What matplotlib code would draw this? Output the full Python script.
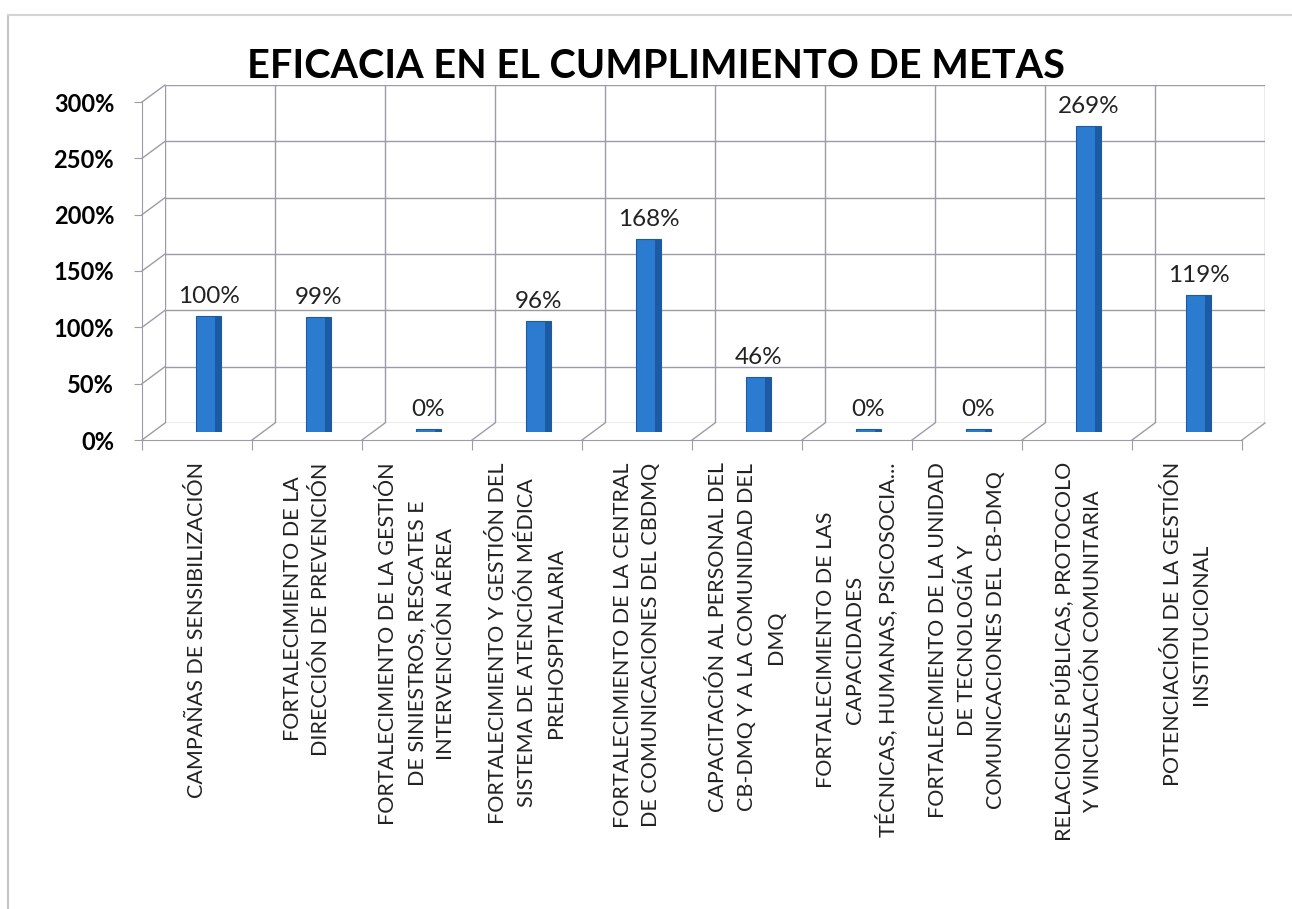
import matplotlib.pyplot as plt
from matplotlib.lines import Line2D

# datos del grafico
categorias = [
    "CAMPAÑAS DE SENSIBILIZACIÓN",
    "FORTALECIMIENTO DE LA\nDIRECCIÓN DE PREVENCIÓN",
    "FORTALECIMIENTO DE LA GESTIÓN\nDE SINIESTROS, RESCATES E\nINTERVENCIÓN AÉREA",
    "FORTALECIMIENTO Y GESTIÓN DEL\nSISTEMA DE ATENCIÓN MÉDICA\nPREHOSPITALARIA",
    "FORTALECIMIENTO DE LA CENTRAL\nDE COMUNICACIONES DEL CBDMQ",
    "CAPACITACIÓN AL PERSONAL DEL\nCB-DMQ Y A LA COMUNIDAD DEL\nDMQ",
    "FORTALECIMIENTO DE LAS\nCAPACIDADES\nTÉCNICAS, HUMANAS, PSICOSOCIA...",
    "FORTALECIMIENTO DE LA UNIDAD\nDE TECNOLOGÍA Y\nCOMUNICACIONES DEL CB-DMQ",
    "RELACIONES PÚBLICAS, PROTOCOLO\nY VINCULACIÓN COMUNITARIA",
    "POTENCIACIÓN DE LA GESTIÓN\nINSTITUCIONAL",
]
valores = [1.00, 0.99, 0.0, 0.96, 1.68, 0.46, 0.0, 0.0, 2.69, 1.19]
etiquetas = ["100%", "99%", "0%", "96%", "168%", "46%", "0%", "0%", "269%", "119%"]
ticks_y = [0, 0.5, 1.0, 1.5, 2.0, 2.5, 3.0]
ticks_y_lbl = ["0%", "50%", "100%", "150%", "200%", "250%", "300%"]
titulo = "EFICACIA EN EL CUMPLIMIENTO DE METAS"

W, H = 1292, 909
plt.rcParams['font.family'] = ['Lato', 'DejaVu Sans']
fig = plt.figure(figsize=(W / 100, H / 100), dpi=100)

GRIS = '#9c9ca8'
AZUL = '#2b7bd0'
AZUL_OSC = '#1c5aa3'


def caja(x0, x1, yb, yt):
    # pixeles (y desde arriba) -> fraccion de figura
    return [x0 / W, 1 - yb / H, (x1 - x0) / W, (yb - yt) / H]


n = len(categorias)
ax_back = fig.add_axes(caja(165, 1265, 423, 85))
ax_bar = fig.add_axes(caja(153.5, 1253.5, 431.5, 93.5))
ax_front = fig.add_axes(caja(142, 1242, 440, 102))

for ax in (ax_back, ax_bar, ax_front):
    ax.set_xlim(0, n)
    ax.set_ylim(0, 3)
    ax.patch.set_visible(False)
    for s in ax.spines.values():
        s.set_visible(False)

# pared del fondo
ax_back.hlines(ticks_y, 0, n, color=GRIS, lw=1)
ax_back.vlines(range(n + 1), 0, 3, color=GRIS, lw=1)
ax_back.set_xticks([])
ax_back.set_yticks([])

# barras
xs = [i + 0.5 for i in range(n)]
alturas = [v + 0.05 for v in valores]
ax_bar.bar(xs, alturas, bottom=-0.025, width=0.23, color=AZUL, edgecolor=AZUL_OSC, lw=0.8)
ax_bar.bar([x + 0.085 for x in xs], alturas, bottom=-0.025, width=0.06, color=AZUL_OSC, lw=0)
for x, v, lbl in zip(xs, valores, etiquetas):
    ax_bar.annotate(lbl, (x, v), xytext=(0, 16), textcoords='offset points',
                    ha='center', va='center', fontsize=17.5, color='#222222')
ax_bar.set_xticks([])
ax_bar.set_yticks([])

# ejes delanteros
ax_front.spines['left'].set_visible(True)
ax_front.spines['bottom'].set_visible(True)
ax_front.spines['left'].set_color(GRIS)
ax_front.spines['bottom'].set_color(GRIS)
ax_front.set_yticks(ticks_y)
ax_front.set_yticklabels(ticks_y_lbl, fontsize=17, fontweight='bold')
ax_front.tick_params(axis='y', length=6, color=GRIS, pad=14)
ax_front.set_xticks(range(n + 1))
ax_front.set_xticklabels([])
ax_front.tick_params(axis='x', which='major', length=7, color=GRIS)
ax_front.set_xticks(xs, minor=True)
ax_front.set_xticklabels(categorias, minor=True, rotation=90, fontsize=15.5,
                         linespacing=1.55, color='#222222')
ax_front.tick_params(axis='x', which='minor', length=0, pad=16)
for t in ax_front.get_xticklabels(minor=True):
    t.set_multialignment('center')

# lineas de profundidad (piso y pared izquierda)
inv = fig.transFigure.inverted()


def prof(p_front, p_back):
    a = inv.transform(ax_front.transData.transform(p_front))
    b = inv.transform(ax_back.transData.transform(p_back))
    fig.add_artist(Line2D([a[0], b[0]], [a[1], b[1]], color=GRIS, lw=1))


for k in range(n + 1):
    prof((k, 0), (k, 0))
for v in ticks_y[1:]:
    prof((0, v), (0, v))

# titulo
fig.text(656 / W, 1 - 66 / H, titulo, ha='center', va='center',
         fontsize=28.5, fontweight='bold', color='black')

# marco exterior
fig.add_artist(Line2D([8 / W, 8 / W], [0, 1 - 15 / H], color='#c4c4c4', lw=1.5))
fig.add_artist(Line2D([8 / W, 1], [1 - 15 / H, 1 - 15 / H], color='#d4d4d4', lw=1.5))

fig.savefig('out.png', dpi=100)
